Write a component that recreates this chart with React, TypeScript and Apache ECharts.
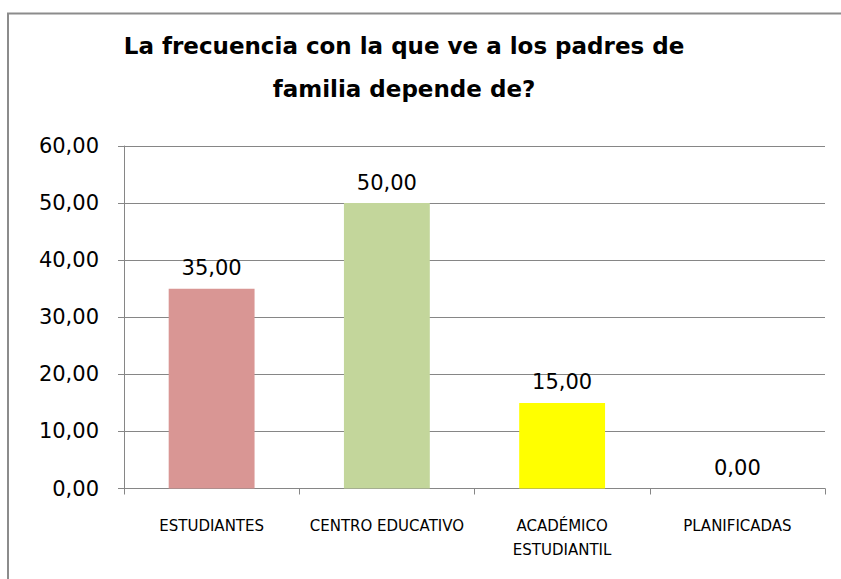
import React, { useEffect, useRef } from "react";
import * as echarts from "echarts";

const titleLines = ["La frecuencia con la que ve a los padres de", "familia depende de?"];
const categories = ["ESTUDIANTES", "CENTRO EDUCATIVO", "ACADÉMICO\nESTUDIANTIL", "PLANIFICADAS"];
const values = [35, 50, 15, 0];
const barColors = ["#D99694", "#C3D69B", "#FFFF00", "#8064A2"];
const yMin = 0;
const yMax = 60;
const yStep = 10;

const fmt = (v: number) => v.toFixed(2).replace(".", ",");
const FONT = "DejaVu Sans";

export default function App() {
  const ref = useRef<HTMLDivElement>(null);
  useEffect(() => {
    if (!ref.current) return;
    const chart = echarts.init(ref.current, undefined, { renderer: "svg" });
    chart.setOption({
      animation: false,
      backgroundColor: "#ffffff",
      title: {
        text: titleLines.join("\n"),
        left: 399,
        top: 19,
        textAlign: "center",
        textStyle: {
          fontFamily: FONT,
          fontWeight: "bold",
          fontSize: 23,
          lineHeight: 43,
          color: "#000000",
        },
      },
      graphic: [
        {
          type: "rect",
          shape: { x: 8, y: 13.5, width: 900, height: 700 },
          style: { fill: "none", stroke: "#8c8c8c", lineWidth: 2 },
          silent: true,
        },
      ],
      grid: { left: 124, right: 16, top: 146, bottom: 90.5, containLabel: false },
      xAxis: {
        type: "category",
        data: categories,
        axisLine: { show: true, lineStyle: { color: "#868686", width: 1 } },
        axisTick: { show: true, length: 6, lineStyle: { color: "#868686" } },
        axisLabel: {
          margin: 25,
          fontFamily: FONT,
          fontSize: 15,
          lineHeight: 24,
          color: "#000000",
          interval: 0,
        },
        splitLine: { show: false },
      },
      yAxis: {
        type: "value",
        min: yMin,
        max: yMax,
        interval: yStep,
        axisLine: { show: true, lineStyle: { color: "#868686", width: 1 } },
        axisTick: { show: true, length: 6, lineStyle: { color: "#868686" } },
        axisLabel: {
          margin: 25,
          fontFamily: FONT,
          fontSize: 21,
          color: "#000000",
          formatter: (v: number) => fmt(v),
        },
        splitLine: { show: true, lineStyle: { color: "#868686", width: 1 } },
      },
      series: [
        {
          type: "bar",
          data: values.map((v, i) => ({ value: v, itemStyle: { color: barColors[i] } })),
          barWidth: "49%",
          label: {
            show: true,
            position: "top",
            distance: 10,
            fontFamily: FONT,
            fontSize: 21,
            color: "#000000",
            formatter: (p: any) => fmt(p.value),
          },
        },
      ],
    });
    return () => chart.dispose();
  }, []);
  return (
    <div
      ref={ref}
      style={{ position: "absolute", left: 0, top: 0, width: 841, height: 579 }}
    />
  );
}
